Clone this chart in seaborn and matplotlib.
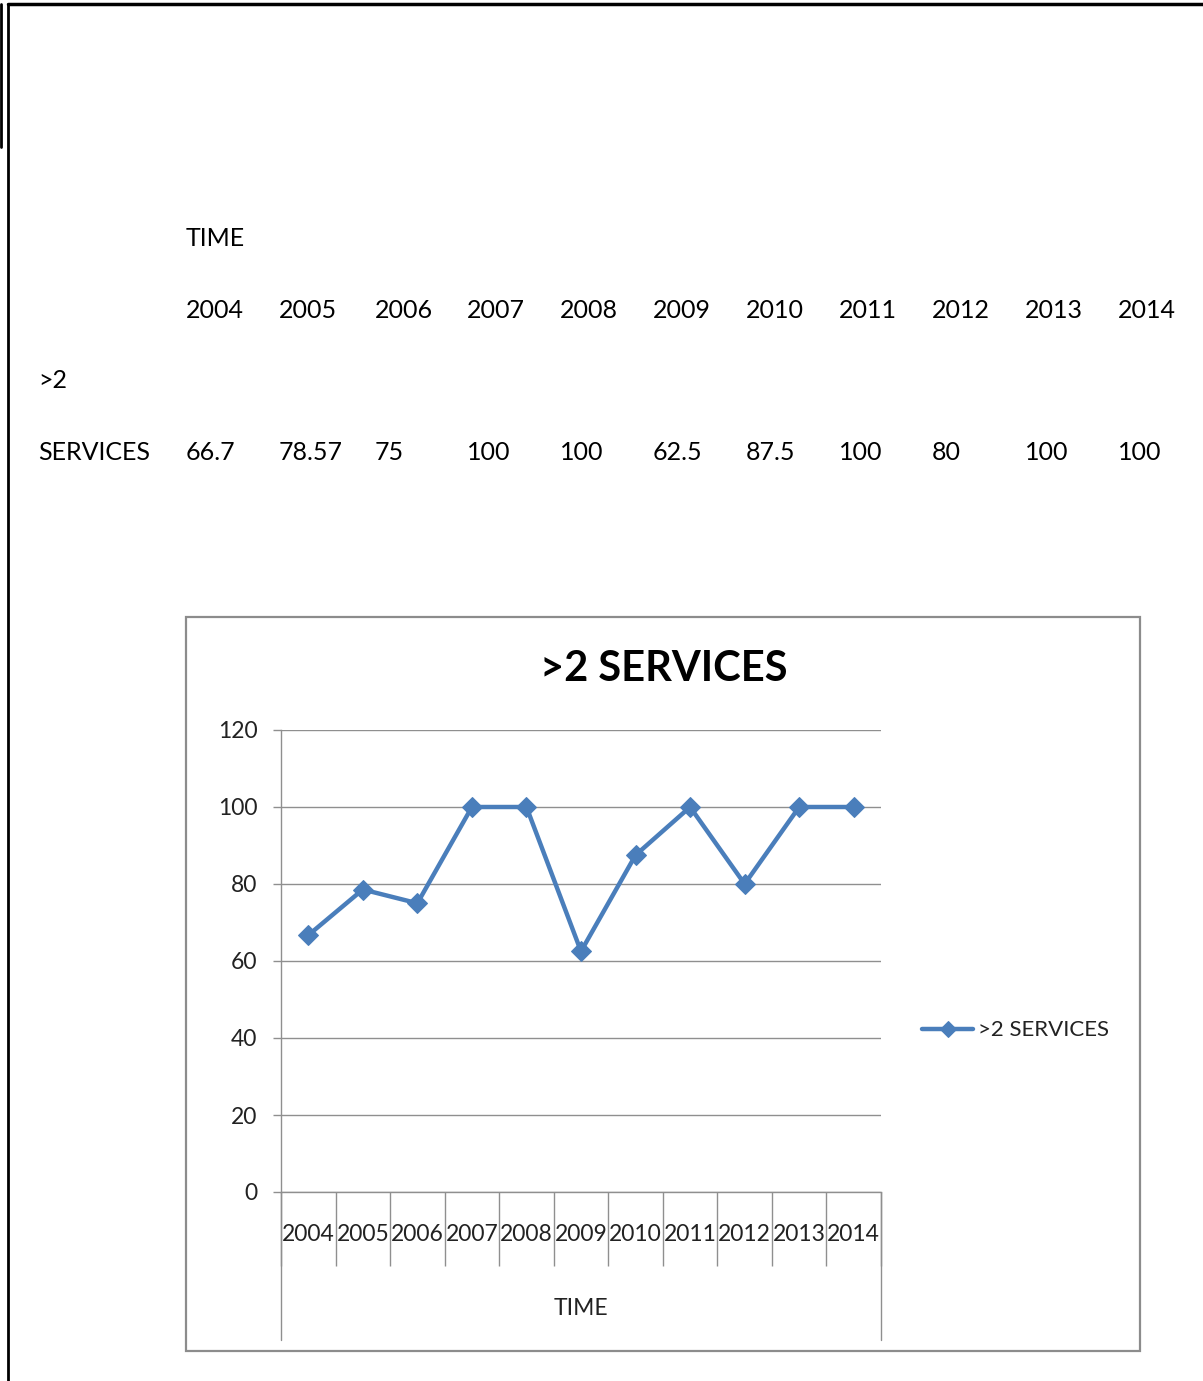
import numpy as np
import pandas as pd
import matplotlib.pyplot as plt
import seaborn as sns
from matplotlib.patches import Rectangle
from matplotlib.lines import Line2D

# data
years = ['2004', '2005', '2006', '2007', '2008', '2009', '2010', '2011', '2012', '2013', '2014']
services = [66.7, 78.57, 75, 100, 100, 62.5, 87.5, 100, 80, 100, 100]
value_labels = ['66.7', '78.57', '75', '100', '100', '62.5', '87.5', '100', '80', '100', '100']
series_name = '>2 SERVICES'
yticks = [0, 20, 40, 60, 80, 100, 120]

sns.set_style('white')
plt.rcParams['font.family'] = ['Lato', 'DejaVu Sans']

W, H = 1203, 1381
fig = plt.figure(figsize=(W / 100, H / 100), dpi=100)

def fx(px):
    return px / W

def fy(py):
    return 1 - py / H

# page borders
fig.add_artist(Line2D([fx(8), fx(1203)], [fy(4), fy(4)], color='black', lw=2.5))
fig.add_artist(Line2D([fx(8), fx(8)], [fy(4), fy(1381)], color='black', lw=2))
fig.add_artist(Line2D([fx(1), fx(1)], [fy(4), fy(147)], color='black', lw=2))

# table above the chart
col_x = [186, 279, 375, 467, 560, 653, 746, 839, 932, 1025, 1118]
tkw = dict(fontsize=18, va='center', ha='left', color='black')
fig.text(fx(186), fy(238), 'TIME', **tkw)
for x, yr in zip(col_x, years):
    fig.text(fx(x), fy(310), yr, **tkw)
fig.text(fx(38), fy(381), '>2', **tkw)
fig.text(fx(38), fy(452), 'SERVICES', **tkw)
for x, v in zip(col_x, value_labels):
    fig.text(fx(x), fy(452), v, **tkw)

# chart frame
fig.patches.append(Rectangle((fx(186), fy(1351)), fx(1140 - 186), (1351 - 617) / H,
                             transform=fig.transFigure, fill=False,
                             edgecolor='#8c8c8c', lw=1.6))

fig.text(fx(664), fy(669), series_name, fontsize=30, fontweight='bold',
         ha='center', va='center', color='black')

ax = fig.add_axes([fx(281), fy(1192), fx(881 - 281), (1192 - 730) / H])
df = pd.DataFrame({'year': years, 'value': services})
x = np.arange(len(years))
blue = '#4a7ebb'
sns.lineplot(x=x, y=df['value'], ax=ax, color=blue, lw=3.2, marker='D',
             markersize=10, markeredgecolor=blue, label=series_name)

ax.set_xlim(-0.5, len(years) - 0.5)
ax.set_ylim(0, 120)
ax.set_yticks(yticks)
ax.yaxis.grid(True, color='#8f8f8f', lw=1)
ax.set_axisbelow(True)
ax.tick_params(axis='y', left=True, length=6, width=1, color='#8f8f8f',
               pad=11, labelsize=16.5, labelcolor='#222222')

# category separators as major ticks, labels on minor ticks
ax.set_xticks(np.arange(-0.5, len(years), 1.0))
ax.set_xticklabels([])
ax.set_xticks(x, minor=True)
ax.set_xticklabels(years, minor=True)
ax.tick_params(axis='x', which='major', bottom=True, length=53, width=1,
               color='#8f8f8f', direction='out')
ax.tick_params(axis='x', which='minor', bottom=True, length=0, pad=23,
               labelsize=16.5, labelcolor='#222222')

for side in ['top', 'right']:
    ax.spines[side].set_visible(False)
for side in ['left', 'bottom']:
    ax.spines[side].set_color('#8f8f8f')
    ax.spines[side].set_linewidth(1)

# long edge lines below the category axis
ext = -(1340 - 1192) / (1192 - 730)
for xv in [-0.5, len(years) - 0.5]:
    ax.plot([xv, xv], [0, ext], transform=ax.get_xaxis_transform(),
            color='#8f8f8f', lw=1, clip_on=False)

ax.set_xlabel('TIME', fontsize=16.5, color='#222222', labelpad=20)
ax.set_ylabel('')

leg = ax.legend(loc='center left', bbox_to_anchor=(1.035, 0.35), frameon=False,
                fontsize=16, handlelength=2.3, handletextpad=0.2,
                markerscale=0.8, labelcolor='#222222')

fig.savefig('out.png', dpi=100, facecolor='white')
